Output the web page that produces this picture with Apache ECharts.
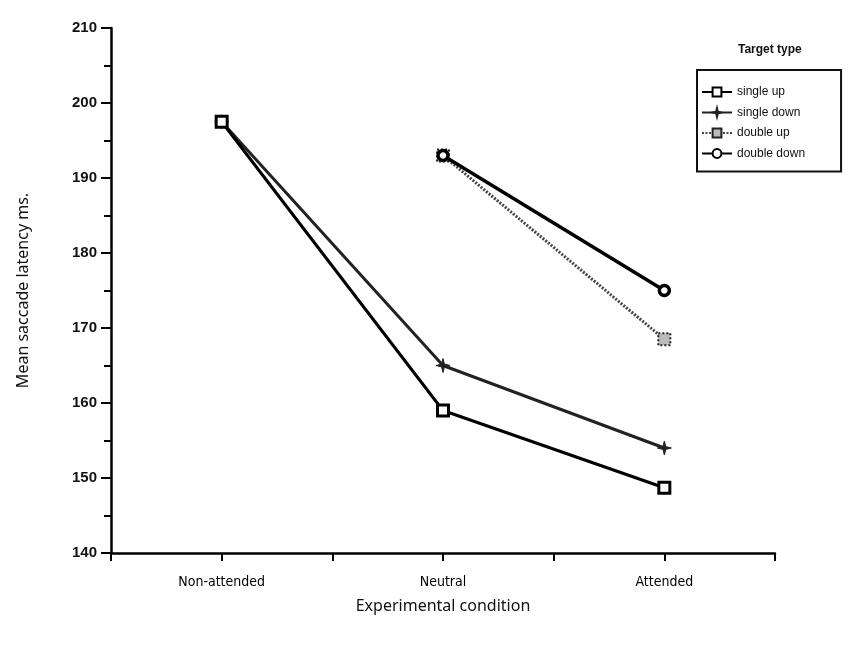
<!DOCTYPE html>
<html>
<head>
<meta charset="utf-8">
<title>Saccade latency by experimental condition</title>
<script src="https://cdn.jsdelivr.net/npm/echarts@6/dist/echarts.min.js"></script>
<style>
  html, body { margin: 0; padding: 0; background: #fff; }
  #chart { width: 852px; height: 647px; }
</style>
</head>
<body>
<div id="chart"></div>
<script>
// Experimental conditions along the x axis
const conditions = ['Non-attended', 'Neutral', 'Attended'];

// Mean saccade latency (ms) per target type; null = condition not run
const singleUp   = [197.5, 159.0, 148.7];
const singleDown = [197.5, 165.0, 154.0];
const doubleUp   = [null, 193.0, 168.5];
const doubleDown = [null, 193.0, 175.0];

const yTicks = [140, 150, 160, 170, 180, 190, 200, 210];

// Conditions sit at the centre of each unit slot on a 0..3 value axis
function toPoints(values) {
  return values.map((v, i) => [i + 0.5, v]);
}

const chart = echarts.init(document.getElementById('chart'));

const starPath = 'path://M0,5 L4,4 L5,0 L6,4 L10,5 L6,6 L5,10 L4,6 Z';

chart.setOption({
  animation: false,
  backgroundColor: '#ffffff',
  title: {
    text: 'Target type',
    left: 733,
    top: 39,
    textStyle: { fontFamily: 'Liberation Sans', fontSize: 12, fontWeight: 'bold', color: '#111' }
  },
  legend: {
    orient: 'vertical',
    left: 697,
    top: 70,
    padding: [16, 36, 12, 4],
    itemGap: 8.5,
    itemWidth: 30,
    itemHeight: 11,
    borderColor: '#111',
    borderWidth: 2,
    textStyle: { fontFamily: 'Liberation Sans', fontSize: 12, color: '#111' },
    data: ['single up', 'single down', 'double up', 'double down']
  },
  grid: { left: 111, right: 77, top: 28, bottom: 94 },
  xAxis: {
    type: 'value',
    min: 0,
    max: 3,
    interval: 0.5,
    name: 'Experimental condition',
    nameLocation: 'middle',
    nameGap: 45,
    nameTextStyle: { fontFamily: 'Noto Sans', fontSize: 16, color: '#111' },
    axisLine: { show: true, lineStyle: { color: '#000', width: 2.5 } },
    axisTick: { show: true, length: 8, lineStyle: { color: '#000', width: 2 } },
    splitLine: { show: false },
    axisLabel: {
      margin: 22,
      fontFamily: 'DejaVu Sans Condensed',
      fontSize: 14,
      color: '#000',
      formatter: function (v) {
        const idx = v - 0.5;
        return Number.isInteger(idx) ? (conditions[idx] || '') : '';
      }
    }
  },
  yAxis: {
    type: 'value',
    min: yTicks[0],
    max: yTicks[yTicks.length - 1],
    interval: 10,
    name: 'Mean saccade latency ms.',
    nameLocation: 'middle',
    nameGap: 80,
    nameTextStyle: { fontFamily: 'Noto Sans', fontSize: 16, color: '#111' },
    axisLine: { show: true, lineStyle: { color: '#000', width: 2.5 } },
    axisTick: { show: true, length: 10, lineStyle: { color: '#000', width: 2 } },
    minorTick: { show: true, splitNumber: 2, length: 7, lineStyle: { color: '#000', width: 2 } },
    splitLine: { show: false },
    axisLabel: {
      margin: 14,
      fontFamily: 'Liberation Sans',
      fontSize: 15,
      fontWeight: 'bold',
      color: '#111'
    }
  },
  series: [
    {
      name: 'single up',
      type: 'line',
      data: toPoints(singleUp),
      symbol: 'rect',
      symbolSize: 11,
      lineStyle: { color: '#000', width: 3 },
      itemStyle: { color: '#fff', borderColor: '#000', borderWidth: 3 },
      z: 4
    },
    {
      name: 'single down',
      type: 'line',
      data: toPoints(singleDown),
      symbol: starPath,
      symbolSize: 14,
      lineStyle: { color: '#222', width: 3 },
      itemStyle: { color: '#222', borderColor: '#222', borderWidth: 1 },
      z: 3
    },
    {
      name: 'double up',
      type: 'line',
      data: toPoints(doubleUp),
      symbol: 'rect',
      symbolSize: 12,
      lineStyle: { color: '#444', width: 3, type: [2, 1.5] },
      itemStyle: { color: '#bbb', borderColor: '#222', borderWidth: 2, borderType: 'dotted' },
      z: 2
    },
    {
      name: 'double down',
      type: 'line',
      data: toPoints(doubleDown),
      symbol: 'circle',
      symbolSize: 10,
      lineStyle: { color: '#000', width: 3.5 },
      itemStyle: { color: '#fff', borderColor: '#000', borderWidth: 3.5 },
      z: 5
    }
  ]
});
</script>
</body>
</html>
